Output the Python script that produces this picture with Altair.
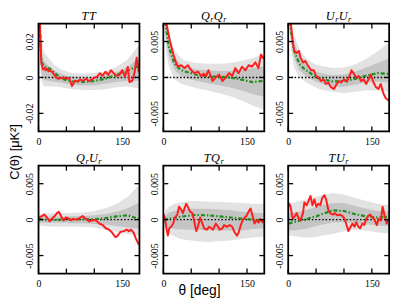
import altair as alt
import pandas as pd

# ---------------- data (values in units of 1e-3 uK^2) ----------------
keys = ["TT", "QQ", "UU", "QU", "TQ", "TU"]
titles = ["TT", "QᵣQᵣ", "UᵣUᵣ", "QᵣUᵣ", "TQᵣ", "TUᵣ"]

theta_band = [1, 3, 5, 10, 20, 30, 40, 50, 60, 80, 100, 120, 140, 160, 180]

band_hi2 = {
    "TT": [40, 32, 22, 14, 10, 6.5, 4.5, 3.5, 2.5, 2.0, 2.5, 3.5, 6.0, 10.0, 18.0],
    "QQ": [9, 8.5, 7.5, 6, 3.8, 2.8, 2.3, 2.1, 2.0, 1.9, 1.9, 2.0, 2.3, 2.7, 3.2],
    "UU": [9, 8.5, 7.5, 6, 4, 2.8, 2.2, 1.8, 1.6, 1.3, 1.4, 1.8, 2.6, 3.6, 4.8],
    "QU": [0.8, 0.8, 0.85, 0.9, 0.9, 0.9, 0.9, 0.9, 0.95, 1.0, 1.2, 1.6, 2.2, 3.2, 4.8],
    "TQ": [0.8, 1.0, 1.35, 1.8, 2.2, 2.4, 2.5, 2.6, 2.6, 2.5, 2.5, 2.4, 2.3, 2.2, 2.2],
    "TU": [1.8, 2.0, 2.2, 2.4, 2.6, 2.8, 3.0, 3.2, 3.4, 3.7, 3.5, 3.0, 2.6, 2.2, 2.0],
}
band_hi1 = {
    "TT": [36, 24, 14, 9, 6, 3.5, 2.0, 1.0, 0.5, 0.0, 0.3, 1.5, 3.0, 6.0, 11.0],
    "QQ": [8.5, 7.8, 7, 5, 2.8, 1.9, 1.5, 1.3, 1.1, 1.0, 0.9, 0.9, 1.0, 1.3, 1.5],
    "UU": [8.5, 7.8, 7, 5, 3, 1.9, 1.3, 0.8, 0.6, 0.3, 0.4, 0.8, 1.4, 2.0, 2.6],
    "QU": [0.4, 0.4, 0.4, 0.45, 0.45, 0.45, 0.45, 0.45, 0.5, 0.5, 0.6, 0.8, 1.1, 1.6, 2.4],
    "TQ": [0.4, 0.55, 0.7, 1.0, 1.2, 1.3, 1.4, 1.5, 1.5, 1.5, 1.4, 1.3, 1.1, 1.0, 0.9],
    "TU": [0.9, 0.95, 1.0, 1.0, 1.1, 1.3, 1.5, 1.8, 2.0, 2.3, 2.3, 1.9, 1.5, 1.2, 1.1],
}
band_lo1 = {
    "TT": [28, 12, 2, -1.5, -2, -2.5, -3, -3.5, -4.2, -4.5, -4.3, -3.5, -2.5, -2.0, -2.0],
    "QQ": [8, 7, 5, 3, 1.0, 0.3, 0, -0.3, -0.5, -0.8, -1.1, -1.4, -1.8, -2.3, -2.7],
    "UU": [8, 7, 5.5, 2.8, 1, 0.3, -0.2, -0.6, -0.9, -1.3, -1.3, -1.0, -0.7, -0.6, -0.7],
    "QU": [-0.4, -0.4, -0.4, -0.45, -0.45, -0.45, -0.45, -0.45, -0.5, -0.5, -0.6, -0.7, -0.9, -1.1, -1.3],
    "TQ": [-0.4, -0.6, -0.8, -1.1, -1.3, -1.35, -1.4, -1.4, -1.4, -1.5, -1.5, -1.5, -1.5, -1.3, -1.2],
    "TU": [-1.4, -1.45, -1.5, -1.5, -1.4, -1.3, -1.1, -0.9, -0.7, -0.4, -0.35, -0.5, -0.65, -0.8, -0.9],
}
band_lo2 = {
    "TT": [24, 6, -2, -5, -5, -5, -5.5, -6, -6.5, -7, -7, -6.5, -5.5, -5, -6],
    "QQ": [7.5, 6, 3.5, 1.5, -0.2, -0.8, -1.1, -1.3, -1.5, -1.8, -2.2, -2.6, -3.2, -3.9, -4.5],
    "UU": [7.5, 6, 4, 1.5, 0, -0.6, -1.0, -1.4, -1.7, -2.0, -2.2, -2.0, -1.8, -1.8, -2.0],
    "QU": [-0.8, -0.8, -0.85, -0.9, -1.0, -1.0, -1.0, -1.0, -1.0, -1.0, -1.1, -1.4, -1.7, -2.0, -2.3],
    "TQ": [-0.8, -1.2, -1.6, -1.9, -2.3, -2.7, -2.8, -2.9, -3.0, -3.1, -3.0, -2.9, -2.7, -2.5, -2.4],
    "TU": [-2.2, -2.2, -2.25, -2.3, -2.4, -2.5, -2.5, -2.4, -2.25, -2.0, -1.6, -1.4, -1.5, -1.8, -1.9],
}
green = {
    "TT": [45, 25, 9, 6, 5, 2.3, -0.5, -1.5, -2.1, -2.5, -2.0, -0.7, 1.4, 4.0, 6.4],
    "QQ": [9, 8, 6.8, 4.2, 1.9, 1.1, 0.8, 0.6, 0.35, 0.15, 0.1, 0, -0.3, -0.65, -0.45],
    "UU": [9, 8, 6.5, 3.8, 1.9, 1.1, 0.6, 0.0, -0.2, -0.55, -0.5, -0.2, 0.25, 0.6, 0.5],
    "QU": [0.1, 0.1, 0.05, 0, -0.05, -0.05, 0, 0.05, 0.05, 0.05, 0.05, 0.2, 0.45, 0.6, 0.1],
    "TQ": [0, 0.05, 0.1, 0.15, 0.25, 0.4, 0.5, 0.6, 0.65, 0.6, 0.45, 0.3, 0.15, 0.0, -0.1],
    "TU": [-0.55, -0.5, -0.45, -0.35, -0.15, 0.0, 0.25, 0.45, 0.75, 1.3, 1.2, 0.75, 0.45, 0.3, 0.4],
}

red_x = {
    "TT": [1, 3, 5, 8, 10, 13, 15, 18, 20, 25, 30, 35, 40, 45, 50, 55, 60, 65, 70, 75, 80, 85, 90, 95, 100,
           105, 110, 115, 120, 125, 130, 135, 140, 145, 150, 155, 160, 163, 168, 172, 176, 180],
    "QQ": [2, 4, 6, 12, 18, 23.5, 26, 32, 38, 44, 50, 56, 62, 68, 72, 76.5, 81, 85, 88, 94,
           100, 106, 112, 118, 123.5, 129, 135, 141, 147, 153, 159, 165, 170.6, 175, 180],
    "UU": [2, 5, 7, 10.5, 15, 19, 22, 26.5, 30.6, 35, 41, 46, 50, 54, 59, 63.5, 67.6, 72, 76.5, 82,
           87, 91, 95, 100, 105, 109, 113.5, 118, 122, 126.5, 130.6, 135, 140, 144, 148, 153, 157.6,
           162, 166, 170.6, 175, 180],
    "QU": [1, 6, 10.6, 15, 20, 25, 29, 33, 36.5, 41, 45, 49, 53, 58, 62, 68, 73.5, 79, 85, 91,
           97, 103, 109, 115, 120.6, 126.5, 132, 138, 142, 147, 153, 158, 162, 166, 170.6, 175, 180],
    "TQ": [0.5, 3, 6, 8, 10.5, 14, 17.6, 21, 25, 28, 32, 35, 39, 41, 45, 48, 52, 55, 59, 62,
           66, 69, 73, 78, 82, 86, 89, 94, 98, 101, 106, 109, 114, 119, 123.5, 128, 132, 135, 139, 142,
           146, 149, 153, 156.5, 160, 163.5, 167, 170.6, 174, 177.6, 180],
    "TU": [0.5, 2.4, 4.7, 8, 12, 15, 19, 22, 26.5, 29, 33, 36.5, 40, 43.5, 47, 50.6, 54, 57.6, 61, 65,
           68, 72, 75, 80, 83.5, 88, 93, 97.6, 101, 104.7, 108, 112, 115, 119, 122, 126, 129, 133, 136.5, 140,
           143.5, 147, 150.6, 154, 159, 162, 166, 169.4, 173, 176.5, 180],
}
red_y = {
    "TT": [45, 25, 8, 4.5, 5, 4, 5, 3.5, 4, 3, 0.5, -0.7, -0.3, 0, -0.7, -0.3, -4.8, -1.8, -2.2, -1.2, -1.8,
           -0.7, -2, -1.2, -0.3, 0.5, 2.3, 1, 3.2, 1.4, 4, 2.3, 1, 1.4, 4, 0.5, 5.8, -2.5, -2, 2.3, 11, 3],
    "QQ": [12, 9, 7.3, 5, 3.2, 1.9, 1.5, 1.7, 1.3, 1.7, 1.0, 0.6, 0.8, 0.2, 0.5, 0.2, 1.0, 0.2, -0.5, 0,
           0.4, -0.5, 0, 0.6, 0.2, 1.3, 0.6, 1.5, 1.0, 1.7, 1.5, 2.1, 1.3, 3.2, 2.6],
    "UU": [12, 7.3, 5.8, 3.7, 3.4, 3.7, 2.8, 2.1, 2.3, 1.7, 1.0, 1.0, 0.2, 0, -0.5, -0.26, -0.9, -0.7, -1.35,
           -1.6, -0.9, -0.5, -0.7, -0.26, -0.6, 0, 1.0, 0.5, 0, 0.2, -0.5, -0.26, -0.9, -0.26, 0.4, -0.7,
           -1.35, -1.6, -0.9, -2.2, -2.9, -3.2],
    "QU": [0.3, 0.5, 0.7, 0.3, -0.25, 0.2, 0.5, 0.9, 1.1, 0.4, -0.1, 0.3, 0.2, -0.1, 0.1, 0, 0.2, 0.5, 0.1,
           -0.25, -0.1, -0.1, -0.55, -0.75, -1.2, -1.4, -1.8, -2.45, -2.25, -1.7, -1.6, -1.4, -1.6, -1.4,
           -1.8, -2.7, -3.5],
    "TQ": [0.7, 0.1, -1.4, -2.2, -1.2, -1.0, -0.55, 0.3, 0.7, 1.8, 1.4, 0.9, 1.8, 2.2, 1.6, 1.1, 0.9, -0.1,
           -1.6, -1.0, 0.3, -0.35, -1.2, -1.4, -1.0, -1.2, -1.4, -0.55, -1.0, -1.4, -1.2, -0.75, -1.0, -0.75,
           -1.0, -1.8, -2.25, -1.8, -0.75, -0.1, 0.3, 0.5, 1.15, 1.55, 0.5, -0.55, -0.1, -0.4, 0.1, -0.35, -0.1],
    "TU": [1.8, 2.2, 1.6, 0.1, 0.5, 0.9, 0.1, -0.1, 0.9, 2.4, 2.0, 2.6, 3.3, 2.0, 2.8, 1.8, 2.2, 2.0, 3.0,
           3.4, 2.8, 1.35, 0.9, 0.7, 0.9, 0.6, 0.7, 0.5, 0.1, -0.75, -1.6, -1.0, -0.55, -1.0, -0.35, -1.0,
           -1.2, -0.55, -0.75, 0.1, 0.5, 0.7, 0.3, 0.1, -0.75, 0.1, -0.1, 1.8, 0.5, -0.55, 0.1],
}

x_ticks = [0, 50, 100, 150]
y_ticks = {"TT": [-0.02, 0, 0.02]}
y_ticks_pol = [-0.005, 0, 0.005]
y_lim = {"TT": 0.03}
y_lim_pol = 0.0075

# ---------------- styling ----------------
W, H = 102.5, 109.5
LIGHT = "#e2e2e2"
DARK = "#c4c4c4"
RED = "#ff1e1e"
GREEN = "#1a8c1a"
SERIF = "Liberation Serif"
SANS = "Liberation Sans"
S = 1e-3
T_SIZE, SUB_SIZE = 12.5, 8.5
EM = {"T": 0.60, "Q": 0.76, "U": 0.76, "r": 0.42}


def title_layer(title):
    # split the title into main letters and subscript r's, laid out left to right
    toks = []
    for ch in title:
        if ch == "ᵣ":
            toks.append(("r", SUB_SIZE, -1.8))
        else:
            toks.append((ch, T_SIZE, -4.0))
    widths = [EM[c] * s for c, s, _ in toks]
    x = W / 2 - sum(widths) / 2
    rows = []
    for (c, s, y), w in zip(toks, widths):
        rows.append({"c": c, "px": x, "py": y, "fs": s})
        x += w
    df = pd.DataFrame(rows)
    return alt.Chart(df).mark_text(
        font=SERIF, fontStyle="italic", baseline="alphabetic", align="left", color="black"
    ).encode(
        text="c:N",
        x=alt.X("px:Q", scale=None),
        y=alt.Y("py:Q", scale=None),
        size=alt.Size("fs:Q", scale=None, legend=None),
    )


def make_panel(i):
    key = keys[i]
    lim = y_lim.get(key, y_lim_pol)
    yt = y_ticks.get(key, y_ticks_pol)
    dec = 2 if key == "TT" else 3
    bdf = pd.DataFrame({
        "x": theta_band,
        "hi2": [v * S for v in band_hi2[key]],
        "hi1": [v * S for v in band_hi1[key]],
        "lo1": [v * S for v in band_lo1[key]],
        "lo2": [v * S for v in band_lo2[key]],
        "g": [v * S for v in green[key]],
    })
    rdf = pd.DataFrame({"x": red_x[key], "r": [v * S for v in red_y[key]]})
    xs = alt.Scale(domain=[0, 181], nice=False, zero=False)
    ys = alt.Scale(domain=[-lim, lim], nice=False, zero=False)
    xax = alt.Axis(values=x_ticks, title=None, ticks=False, tickSize=0, domain=False, grid=False,
                   labelFlush=False, labelPadding=5, labelOverlap=False)
    yax = alt.Axis(values=yt, title=None, ticks=False, tickSize=0, domain=False, grid=False,
                   labelFlush=False, labelPadding=4, labelAngle=270, labelAlign="center",
                   labelBaseline="bottom", labelOverlap=False,
                   labelExpr=f"datum.value == 0 ? '0' : replace(format(datum.value, '.{dec}f'), '\u2212', '-')")
    base = alt.Chart(bdf)
    outer = base.mark_area(color=LIGHT, opacity=1, clip=True).encode(
        x=alt.X("x:Q", scale=xs, axis=xax), y=alt.Y("lo2:Q", scale=ys, axis=yax), y2="hi2:Q")
    inner = base.mark_area(color=DARK, opacity=1, clip=True).encode(x="x:Q", y="lo1:Q", y2="hi1:Q")
    zero = alt.Chart(pd.DataFrame({"z": [0.0]})).mark_rule(
        color="black", strokeDash=[1.5, 2], strokeWidth=1.4).encode(y="z:Q")
    gline = base.mark_line(color=GREEN, strokeWidth=2.2, strokeDash=[4, 2, 1.5, 2], clip=True).encode(
        x="x:Q", y="g:Q")
    rline = alt.Chart(rdf).mark_line(color=RED, strokeWidth=2, clip=True, strokeJoin="round").encode(
        x="x:Q", y="r:Q")
    txd = alt.Chart(pd.DataFrame({"t": x_ticks}))
    tyd = alt.Chart(pd.DataFrame({"t": yt}))
    tk = dict(color="black", strokeWidth=1.3)
    tx1 = txd.mark_rule(**tk).encode(x="t:Q", y=alt.value(0), y2=alt.value(5))
    tx2 = txd.mark_rule(**tk).encode(x="t:Q", y=alt.value(H - 5), y2=alt.value(H))
    ty1 = tyd.mark_rule(**tk).encode(y="t:Q", x=alt.value(0), x2=alt.value(5))
    ty2 = tyd.mark_rule(**tk).encode(y="t:Q", x=alt.value(W - 5), x2=alt.value(W))
    frame = alt.Chart(pd.DataFrame({"f": [1]})).mark_rect(
        fill="white", fillOpacity=0, stroke="black", strokeWidth=1.8
    ).encode(x=alt.value(0), x2=alt.value(W), y=alt.value(0), y2=alt.value(H))
    layers = [outer, inner, zero, gline, rline, tx1, tx2, ty1, ty2, frame, title_layer(titles[i])]
    if i == 3:
        layers.append(alt.Chart(pd.DataFrame({"t": ["C(θ) [μK²]"]})).mark_text(
            font=SANS, fontSize=13, angle=270, align="center", baseline="middle", color="black"
        ).encode(text="t:N", x=alt.value(-24), y=alt.value(-14)))
    if i == 4:
        layers.append(alt.Chart(pd.DataFrame({"t": ["θ [deg]"]})).mark_text(
            font=SANS, fontSize=14, align="center", baseline="middle", color="black"
        ).encode(text="t:N", x=alt.value(36.7), y=alt.value(127)))
    return alt.layer(*layers).properties(width=W, height=H)


panels = [make_panel(i) for i in range(6)]
chart = alt.concat(
    *panels, columns=3, spacing=alt.RowColnumber(row=34.4, column=23.8), bounds="flush"
).properties(
    padding={"top": -1.5, "left": 0, "right": 0, "bottom": 0}, background="white"
).configure_view(stroke="transparent").configure_axis(
    labelFont=SERIF, labelFontSize=10, labelColor="black"
)

chart.save("out.html", embed_options={"renderer": "svg", "actions": False})
